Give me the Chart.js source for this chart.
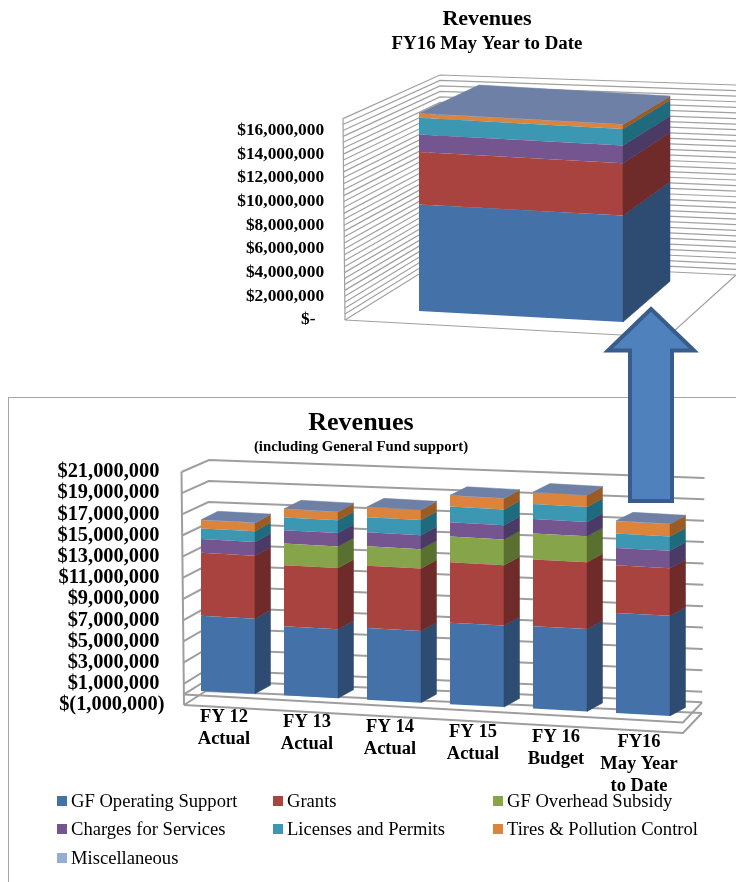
<!DOCTYPE html>
<html>
<head>
<meta charset="utf-8">
<title>Revenues</title>
<script src="https://cdn.jsdelivr.net/npm/chart.js@4/dist/chart.umd.min.js"></script>
<style>
  html, body { margin: 0; background: #fff; }
  #page { position: relative; width: 736px; height: 882px; overflow: hidden; }
  #page canvas, #page svg { position: absolute; top: 0; }
  #frame { position: absolute; left: 8px; top: 397px; width: 728px; height: 485px;
           border-left: 1px solid #a6a6a6; border-top: 1px solid #a6a6a6; }
</style>
</head>
<body>
<div id="page">
  <div id="frame"></div>
  <canvas id="ytdChart" width="514" height="397" style="left:230px"></canvas>
  <canvas id="historyChart" width="722" height="882" style="left:0"></canvas>
  <svg width="736" height="882">
    <polygon points="651,309 694,350.5 672,350.5 672,501 630,501 630,350.5 608,350.5"
             fill="#4f81bd" stroke="#385d8a" stroke-width="4"></polygon>
  </svg>
</div>

<script>
// revenue sources, bottom to top of each stack
const sources = ["GF Operating Support", "Grants", "GF Overhead Subsidy", "Charges for Services",
  "Licenses and Permits", "Tires & Pollution Control", "Miscellaneous"];

const frontColors = ["#4472a8", "#a8433f", "#86a44a", "#74558f", "#3c97b3", "#dc843c", "#95aed6"];
const sideColors = ["#2e4b72", "#6f2b2a", "#5a7030", "#4b3a66", "#1f6a7c", "#9a5c24", "#6e80a5"];
const topColor = "#6e80a5";

const years = [["FY 12", "Actual"], ["FY 13", "Actual"], ["FY 14", "Actual"], ["FY 15", "Actual"],
  ["FY 16", "Budget"], ["FY16", "May Year", "to Date"]];
const gfOperating = [7090000, 6520000, 6770000, 7690000, 7780000, 9450000];
const grants = [5950000, 5760000, 5890000, 5700000, 6300000, 4500000];
const gfOverhead = [0, 2050000, 1830000, 2430000, 2460000, 0];
const charges = [1290000, 1260000, 1320000, 1350000, 1350000, 1640000];
const licenses = [1010000, 1200000, 1420000, 1480000, 1420000, 1350000];
const tires = [790000, 790000, 950000, 1040000, 1100000, 1170000];
const misc = [30000, 30000, 30000, 30000, 30000, 30000];

const historyTicks = [-1000000, 1000000, 3000000, 5000000, 7000000, 9000000, 11000000,
  13000000, 15000000, 17000000, 19000000, 21000000];
const historyGrid = [-1000000, 0, 1000000, 3000000, 5000000, 7000000, 9000000, 11000000,
  13000000, 15000000, 17000000, 19000000, 21000000];

const ytdLabel = ["FY16 May Year to Date"];
const ytdValues = [[8980000], [4430000], [0], [1490000], [1400000], [360000], [30000]];
const ytdTicks = [];
for (let v = 0; v <= 17000000; v += 500000) ytdTicks.push(v);

const lerp = (a, b, t) => a + (b - a) * t;

const money = function (value) {
  if (value === 0) return "$-   ";
  const text = Math.abs(value).toLocaleString("en-US");
  return value < 0 ? "$(" + text + ")" : "$" + text + " ";
};

const drawWalls = function (chart, cfg) {
  const ctx = chart.ctx;
  const scale = chart.scales.y;
  const w = cfg.walls;

  const backPoints = function (value) {
    const t = (value - scale.min) / (scale.max - scale.min);
    return {
      fx: lerp(w.frontX[0], w.frontX[1], t),
      fy: scale.getPixelForValue(value),
      bx: lerp(w.backX[0], w.backX[1], t),
      by: lerp(w.backY[0], w.backY[1], t),
      rx: lerp(w.rightX[0], w.rightX[1], t),
      ry: lerp(w.rightY[0], w.rightY[1], t),
    };
  };

  ctx.save();
  ctx.strokeStyle = cfg.lineColor;
  ctx.lineWidth = cfg.lineWidth;

  cfg.gridValues.forEach((value) => {
    const p = backPoints(value);
    ctx.beginPath();
    ctx.moveTo(p.fx, p.fy);
    ctx.lineTo(p.bx, p.by);
    ctx.lineTo(p.rx, p.ry);
    ctx.stroke();
  });

  // front corner of the left wall
  const low = backPoints(scale.min);
  const high = backPoints(scale.max);
  ctx.beginPath();
  ctx.moveTo(high.fx, high.fy);
  ctx.lineTo(low.fx, low.fy);
  ctx.stroke();

  // floor outline
  cfg.floorValues.forEach((value) => {
    const p = backPoints(value);
    ctx.beginPath();
    ctx.moveTo(p.fx, p.fy);
    ctx.lineTo(w.floorX, p.fy + w.floorDrop);
    ctx.lineTo(p.rx, p.ry);
    ctx.stroke();
  });
  ctx.restore();
};

const drawBarDepth = function (chart, cfg) {
  const ctx = chart.ctx;
  const scale = chart.scales.y;
  const d = cfg.depth;
  const zero = scale.getPixelForValue(0);
  const sheared = (x, y) => y + cfg.shear * x + cfg.shearOffset;
  const rise = (y) => lerp(d.dyBase, d.dyTop, (zero - y) / (zero - chart.chartArea.top));

  const face = function (color, points) {
    ctx.fillStyle = color;
    ctx.strokeStyle = color;
    ctx.lineWidth = 0.5;
    ctx.beginPath();
    points.forEach((p, i) => (i ? ctx.lineTo(p[0], p[1]) : ctx.moveTo(p[0], p[1])));
    ctx.closePath();
    ctx.fill();
    ctx.stroke();
  };

  chart.data.datasets.forEach((set, i) => {
    chart.getDatasetMeta(i).data.forEach((bar) => {
      const p = bar.getProps(["x", "y", "base", "width"], true);
      if (p.base - p.y < 0.01) return;
      const right = p.x + p.width / 2;
      face(sideColors[i], [
        [right, sheared(right, p.y)],
        [right + d.dxRight, sheared(right, p.y) + rise(p.y)],
        [right + d.dxRight, sheared(right, p.base) + rise(p.base)],
        [right, sheared(right, p.base)],
      ]);
    });
  });

  const last = chart.getDatasetMeta(chart.data.datasets.length - 1);
  last.data.forEach((bar) => {
    const p = bar.getProps(["x", "y", "width"], true);
    const left = p.x - p.width / 2;
    const right = p.x + p.width / 2;
    const up = rise(p.y);
    face(topColor, [
      [left, sheared(left, p.y)],
      [right, sheared(right, p.y)],
      [right + d.dxRight, sheared(right, p.y) + up],
      [left + d.dxLeft, sheared(left, p.y) + up],
    ]);
  });
};

// the floor runs downhill, so the category labels step down with it
const drawYearLabels = function (chart, cfg) {
  const ctx = chart.ctx;
  const scale = chart.scales.x;
  ctx.save();
  ctx.font = "bold 18.5px 'Liberation Serif'";
  ctx.fillStyle = "#000";
  ctx.textAlign = "center";
  ctx.textBaseline = "middle";
  scale.ticks.forEach((tick, i) => {
    const x = scale.getPixelForTick(i) + cfg.labels.dx;
    const y = cfg.labels.y + cfg.labels.slope * i;
    chart.data.labels[i].forEach((line, n) => ctx.fillText(line, x, y + n * cfg.labels.lineHeight));
  });
  ctx.restore();
};

const drawLegend = function (chart, cfg) {
  const ctx = chart.ctx;
  const l = cfg.legend;
  ctx.save();
  ctx.font = "18.6px 'Liberation Serif'";
  ctx.textBaseline = "middle";
  chart.data.datasets.forEach((set, i) => {
    const x = l.columns[i % 3];
    const y = l.rows[Math.floor(i / 3)];
    ctx.fillStyle = set.backgroundColor;
    ctx.fillRect(x, y - 5, 10, 10);
    ctx.fillStyle = "#000";
    ctx.fillText(set.label, x + 14, y + 1);
  });
  ctx.restore();
};

const boxPlugin = function (cfg) {
  return {
    id: "box3d",
    // tick labels get clipped to the axis box, and the left padding only exists to centre the title
    afterLayout(chart) {
      chart.scales.y.left = 0;
    },
    beforeDatasetsDraw(chart) {
      drawWalls(chart, cfg);
      chart.ctx.save();
      chart.ctx.transform(1, cfg.shear, 0, 1, 0, cfg.shearOffset);
    },
    afterDatasetsDraw(chart) {
      chart.ctx.restore();
      drawBarDepth(chart, cfg);
      if (cfg.labels) drawYearLabels(chart, cfg);
      if (cfg.legend) drawLegend(chart, cfg);
    },
  };
};

const makeDatasets = function (series, barPercentage) {
  return series.map((data, i) => ({
    label: sources[i],
    data: data,
    backgroundColor: frontColors[i],
    borderWidth: 0,
    barPercentage: barPercentage,
    categoryPercentage: 1,
    clip: false,
  }));
};

const makeChart = function (id, opts) {
  return new Chart(document.getElementById(id), {
    type: "bar",
    data: { labels: opts.labels, datasets: makeDatasets(opts.series, opts.barPercentage) },
    plugins: [boxPlugin(opts.box)],
    options: {
      responsive: false,
      animation: false,
      layout: { padding: opts.padding },
      plugins: {
        legend: { display: false },
        tooltip: { enabled: false },
        title: {
          display: true,
          text: "Revenues",
          color: "#000",
          font: { size: opts.titleSize, weight: "bold" },
          padding: opts.titlePadding,
        },
        subtitle: {
          display: true,
          text: opts.subtitle,
          color: "#000",
          font: { size: opts.subtitleSize, weight: "bold" },
          padding: opts.subtitlePadding,
        },
      },
      scales: {
        x: { stacked: true, display: false },
        y: {
          stacked: true,
          min: opts.min,
          max: opts.max,
          grid: { display: false, drawTicks: false },
          border: { display: false },
          afterBuildTicks: (scale) => {
            scale.ticks = opts.ticks.map((v) => ({ value: v }));
          },
          afterFit: (scale) => {
            scale.width = opts.axisWidth;
          },
          ticks: {
            autoSkip: false,
            color: "#000",
            padding: opts.tickPadding,
            font: { size: opts.tickSize, weight: "bold" },
            callback: (value) => (value % opts.labelStep === 0 ? money(value) : ""),
          },
        },
      },
    },
  });
};

Chart.defaults.font.family = "'Liberation Serif'";

makeChart("ytdChart", {
  labels: ytdLabel,
  series: ytdValues,
  barPercentage: 204 / 352,
  padding: { left: 47, right: 47, top: 0, bottom: 77 },
  titleSize: 22,
  titlePadding: { top: 6, bottom: 0 },
  subtitle: "FY16 May Year to Date",
  subtitleSize: 18.9,
  subtitlePadding: { top: 0, bottom: 63.5 },
  min: 0,
  max: 17000000,
  ticks: ytdTicks,
  labelStep: 2000000,
  axisWidth: 68,
  tickPadding: 16.5,
  tickSize: 17.4,
  box: {
    shear: 0.054,
    shearOffset: -9 - 0.054 * 189,
    lineColor: "#a0a0a0",
    lineWidth: 1.2,
    gridValues: ytdTicks,
    floorValues: [0],
    walls: {
      frontX: [115, 113],
      backX: [210, 210],
      backY: [261, 75],
      rightX: [506, 506],
      rightY: [275, 85],
      floorX: 437,
      floorDrop: 17.5,
    },
    depth: { dxLeft: 60, dxRight: 47, dyBase: -40.7, dyTop: -28 },
  },
});

makeChart("historyChart", {
  labels: years,
  series: [gfOperating, grants, gfOverhead, charges, licenses, tires, misc],
  barPercentage: 54 / 83,
  padding: { left: 37.5, right: 37.5, top: 0, bottom: 177 },
  titleSize: 26,
  titlePadding: { top: 407.4, bottom: 0 },
  subtitle: "(including General Fund support)",
  subtitleSize: 14.8,
  subtitlePadding: { top: 0, bottom: 15.6 },
  min: -1000000,
  max: 21000000,
  ticks: historyTicks,
  labelStep: 1000000,
  axisWidth: 149,
  tickPadding: 22,
  tickSize: 20.4,
  box: {
    shear: 0.0533,
    shearOffset: -3.4 - 0.0533 * 203,
    lineColor: "#9e9e9e",
    lineWidth: 2,
    gridValues: historyGrid,
    floorValues: [-1000000, 0],
    walls: {
      frontX: [184, 181.5],
      backX: [206, 209],
      backY: [691, 460],
      rightX: [702, 704.5],
      rightY: [713, 478],
      floorX: 683,
      floorDrop: 28,
    },
    depth: { dxLeft: 17, dxRight: 15.5, dyBase: -8.5, dyTop: -8.5 },
    labels: { dx: -4, y: 717, slope: 5, lineHeight: 22 },
    legend: { columns: [57, 273, 493], rows: [801, 829, 858] },
  },
});
</script>
</body>
</html>
